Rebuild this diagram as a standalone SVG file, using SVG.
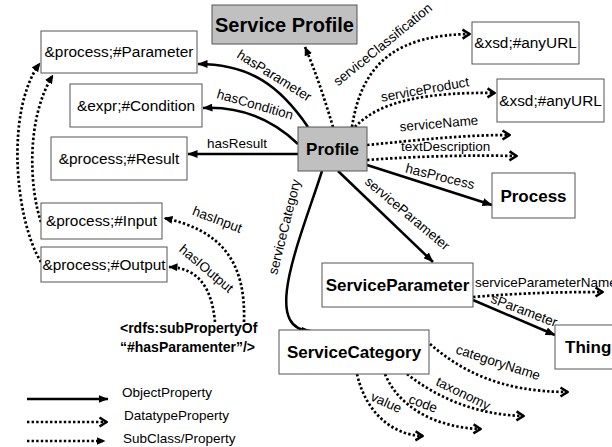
<svg xmlns="http://www.w3.org/2000/svg" width="612" height="447" viewBox="0 0 612 447">
<style>
text{font-family:"Liberation Sans",Arial,sans-serif;fill:#000}
.box{fill:#fff;stroke:#555;stroke-width:1}
.gbox{fill:#c0c0c0;stroke:#555;stroke-width:1}
.bt{font-size:15.4px}
.bb{font-size:17px;font-weight:bold}
.lbl{font-size:13.5px}
.obj{fill:none;stroke:#000;stroke-width:2.5}
.dat{fill:none;stroke:#000;stroke-width:2.7;stroke-dasharray:2.4 2.2}
.sub{fill:none;stroke:#000;stroke-width:2.7;stroke-dasharray:2.4 2.2}
.obj{marker-end:url(#mObj)}
.dat{marker-end:url(#mDat)}
.sub{marker-end:url(#mSub)}
</style>
<defs>
<marker id="mObj" viewBox="0 0 10 8" refX="9.5" refY="4" markerWidth="10" markerHeight="8" orient="auto" markerUnits="userSpaceOnUse"><path d="M0,0 L10,4 L0,8 z" fill="#000"/></marker>
<marker id="mDat" viewBox="0 0 10 12" refX="9" refY="6" markerWidth="10" markerHeight="12" orient="auto" markerUnits="userSpaceOnUse"><path d="M1.5,1.5 L8.5,6 L1.5,10.5" fill="none" stroke="#000" stroke-width="2.6"/></marker>
<marker id="mSub" viewBox="0 0 9 8" refX="8.5" refY="4" markerWidth="9" markerHeight="8" orient="auto" markerUnits="userSpaceOnUse"><path d="M0,0 L9,4 L0,8 z" fill="#000"/></marker>
</defs>

<g id="connectors">
<path class="obj" d="M308,127 C 280,86 250,64 198,64"/>
<path class="obj" d="M298,144 C 275,122 245,106 203,108"/>
<path class="obj" d="M298,154 L188,154"/>
<path class="obj" d="M367,165 L492,205"/>
<path class="obj" d="M338,171 L433,262"/>
<path class="obj" d="M322,171 C 300,240 260,330 311,331"/>
<path class="obj" d="M473,300 L555,335"/>

<path class="dat" d="M352,127 C 362,60 400,35 470,34"/>
<path class="dat" d="M355,127 C 380,100 430,92 495,93"/>
<path class="dat" d="M367,145 C 420,140 460,135 510,135"/>
<path class="dat" d="M367,160 C 420,156 470,155 517,156"/>
<path class="dat" d="M473,297 C 520,293 560,292 603,292"/>
<path class="dat" d="M430,344 C 460,370 500,392 568,392"/>
<path class="dat" d="M407,374 C 440,400 480,415 524,416"/>
<path class="dat" d="M385,374 C 400,410 440,428 481,429"/>
<path class="dat" d="M357,374 C 365,410 390,435 423,436"/>

<path class="sub" d="M333,127 C 325,100 315,70 305,47"/>
<path class="sub" d="M41,222 C 30,190 25,120 53,75"/>
<path class="sub" d="M41,262 C 15,220 5,110 40,63"/>
<path class="sub" d="M244,322 C 246,260 220,230 164,218"/>
<path class="sub" d="M215,322 C 212,290 200,268 169,267"/>

<g>
<text class="lbl" text-anchor="middle" transform="translate(274,76) rotate(32)" y="4">hasParameter</text>
<text class="lbl" text-anchor="middle" transform="translate(255,105) rotate(16)" y="4">hasCondition</text>
<text class="lbl" x="207" y="148">hasResult</text>
<text class="lbl" text-anchor="middle" transform="translate(383,45) rotate(-39)" y="4">serviceClassification</text>
<text class="lbl" text-anchor="middle" transform="translate(425,90) rotate(-10)" y="4">serviceProduct</text>
<text class="lbl" text-anchor="middle" transform="translate(439,124) rotate(-5)" y="4">serviceName</text>
<text class="lbl" x="401" y="151">textDescription</text>
<text class="lbl" text-anchor="middle" transform="translate(440,177) rotate(14)" y="4">hasProcess</text>
<text class="lbl" text-anchor="middle" transform="translate(407,214) rotate(40)" y="4">serviceParameter</text>
<text class="lbl" text-anchor="middle" transform="translate(285,227) rotate(-76)" y="4">serviceCategory</text>
<text class="lbl" text-anchor="middle" transform="translate(524,311) rotate(21)" y="4">sParameter</text>
<text class="lbl" x="475" y="287">serviceParameterName</text>
<text class="lbl" text-anchor="middle" transform="translate(498,363) rotate(18)" y="4">categoryName</text>
<text class="lbl" text-anchor="middle" transform="translate(463,394) rotate(26)" y="4">taxonomy</text>
<text class="lbl" text-anchor="middle" transform="translate(423,404) rotate(20)" y="4">code</text>
<text class="lbl" text-anchor="middle" transform="translate(386,403) rotate(24)" y="4">value</text>
<text class="lbl" text-anchor="middle" transform="translate(217,220) rotate(21)" y="4">hasInput</text>
<text class="lbl" text-anchor="middle" transform="translate(206,269) rotate(40)" y="4">hasIOutput</text>
</g>
</g>

<g id="serviceProfile"><rect class="gbox" x="212" y="5" width="145" height="39"/><text x="284.5" y="32" text-anchor="middle" style="font-size:20px;font-weight:bold">Service Profile</text></g>
<g id="parameter"><rect class="box" x="41" y="31" width="156" height="42"/><text class="bt" x="119" y="57" text-anchor="middle">&amp;process;#Parameter</text></g>
<g id="condition"><rect class="box" x="70" y="84" width="132" height="43"/><text class="bt" x="136" y="111" text-anchor="middle">&amp;expr;#Condition</text></g>
<g id="result"><rect class="box" x="51" y="137" width="136" height="43"/><text class="bt" x="119" y="164" text-anchor="middle">&amp;process;#Result</text></g>
<g id="profile"><rect class="gbox" x="298" y="127" width="69" height="44"/><text class="bb" x="332.5" y="155" text-anchor="middle">Profile</text></g>
<g id="anyURL1"><rect class="box" x="472" y="22" width="107" height="42"/><text class="bt" x="525.5" y="48" text-anchor="middle">&amp;xsd;#anyURL</text></g>
<g id="anyURL2"><rect class="box" x="497" y="79" width="107" height="43"/><text class="bt" x="550.5" y="106" text-anchor="middle">&amp;xsd;#anyURL</text></g>
<g id="process"><rect class="box" x="492" y="173" width="83" height="45"/><text class="bb" x="533.5" y="202" text-anchor="middle">Process</text></g>
<g id="serviceParameter"><rect class="box" x="322" y="263" width="151" height="44"/><text class="bb" x="397.5" y="291" text-anchor="middle">ServiceParameter</text></g>
<g id="serviceCategory"><rect class="box" x="279" y="330" width="150" height="44"/><text class="bb" x="354" y="358" text-anchor="middle">ServiceCategory</text></g>
<g id="thing"><rect class="box" x="555" y="325" width="70" height="44"/><text class="bb" x="565" y="353">Thing</text></g>
<g id="input"><rect class="box" x="41" y="203" width="121" height="36"/><text class="bt" x="101.5" y="226" text-anchor="middle">&amp;process;#Input</text></g>
<g id="output"><rect class="box" x="41" y="247" width="126" height="35"/><text class="bt" x="104" y="270" text-anchor="middle">&amp;process;#Output</text></g>
<g id="subPropertyNote"><text x="120" y="333" style="font-size:14px;font-weight:bold">&lt;rdfs:subPropertyOf</text><text x="120" y="352" style="font-size:14px;font-weight:bold">“#hasParamenter”/&gt;</text></g>

<g id="legend">
<path class="obj" d="M27,399 L108,399"/>
<path class="dat" d="M27,422 L107,422"/>
<path class="sub" d="M27,441 L105,441"/>
<text class="lbl" x="122" y="397">ObjectProperty</text>
<text class="lbl" x="124" y="420">DatatypeProperty</text>
<text class="lbl" x="123" y="443">SubClass/Property</text>
</g>
</svg>
